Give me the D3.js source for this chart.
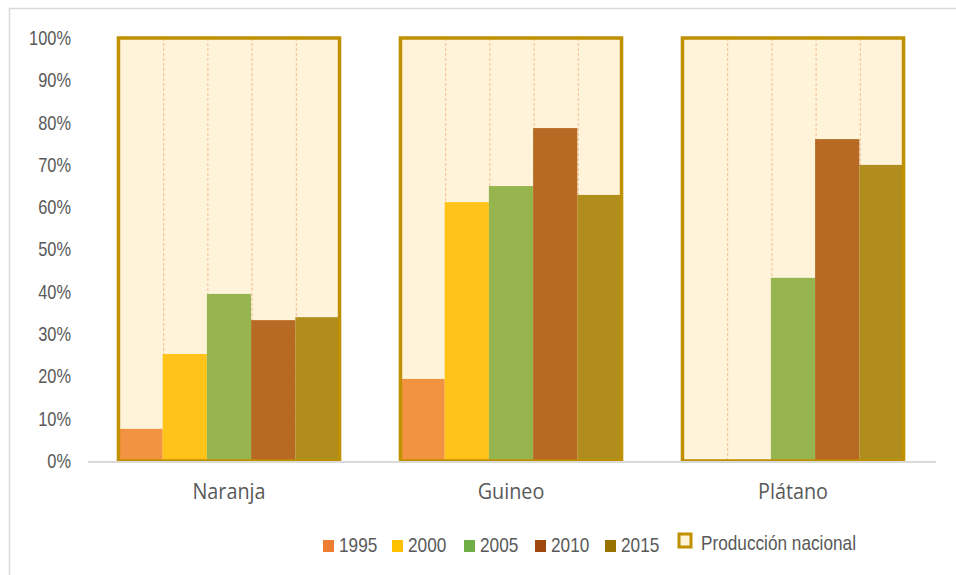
<!DOCTYPE html>
<html>
<head>
<meta charset="utf-8">
<script src="https://cdn.jsdelivr.net/npm/d3@7"></script>
<style>
  body { margin: 0; background: #fff; }
  svg { display: block; }
</style>
</head>
<body>
<div id="chart"></div>
<script>
// data
const categories = ['Naranja', 'Guineo', 'Plátano'];
const years = ['1995', '2000', '2005', '2010', '2015'];
const values = {
  '1995': [0.076, 0.194, 0],
  '2000': [0.253, 0.612, 0],
  '2005': [0.395, 0.650, 0.433],
  '2010': [0.333, 0.787, 0.761],
  '2015': [0.340, 0.629, 0.700]
};
const national = [1, 1, 1];
const yTicks = [0, 0.1, 0.2, 0.3, 0.4, 0.5, 0.6, 0.7, 0.8, 0.9, 1];

const barColors = ['#F19341', '#FFC31A', '#97B54E', '#B66A24', '#B18D1D'];
const legendColors = ['#ED7D31', '#FFC000', '#70AD47', '#9E480E', '#997300'];

const width = 956, height = 575;
const sans = '"Liberation Sans", Arial, sans-serif';
const squeeze = 0.82; // source text looks horizontally condensed

const svg = d3.select('#chart').append('svg')
  .attr('width', width)
  .attr('height', height);

// light frame round the picture
svg.append('rect')
  .attr('x', 9.5).attr('y', 8.5)
  .attr('width', width + 20).attr('height', height + 20)
  .attr('fill', 'none')
  .attr('stroke', '#D9D9D9')
  .attr('stroke-width', 1.5);

const x = d3.scaleBand()
  .domain(categories)
  .range([88, 934])
  .paddingInner(0.216)
  .paddingOuter(0.108);

const xInner = d3.scaleBand()
  .domain(years)
  .range([0, x.bandwidth()]);

const y = d3.scaleLinear()
  .domain([0, 1])
  .range([461, 38]);

const color = d3.scaleOrdinal().domain(years).range(barColors);

// y axis labels
const yAxis = svg.append('g')
  .attr('transform', 'translate(71,0)')
  .call(d3.axisLeft(y).tickValues(yTicks).tickFormat(d3.format('.0%')).tickSize(0).tickPadding(0));
yAxis.select('.domain').remove();
yAxis.selectAll('text')
  .attr('transform', 'scale(' + squeeze + ',1)')
  .style('font-family', sans)
  .style('font-size', '20px')
  .attr('fill', '#595959');

// national production boxes (background)
const groups = svg.selectAll('.cat')
  .data(categories)
  .enter()
  .append('g').attr('class', 'cat')
  .attr('transform', d => 'translate(' + x(d) + ',0)');

groups.append('rect')
  .attr('x', 0)
  .attr('y', (d, i) => y(national[i]))
  .attr('width', x.bandwidth())
  .attr('height', (d, i) => y(0) - y(national[i]))
  .attr('fill', '#FFF3D9');

// dashed separators between years
groups.selectAll('.sep')
  .data(years.slice(1))
  .enter()
  .append('line')
  .attr('x1', d => xInner(d) + 1).attr('x2', d => xInner(d) + 1)
  .attr('y1', y(1)).attr('y2', y(0))
  .attr('stroke', '#F4B183')
  .attr('stroke-width', 1)
  .attr('stroke-dasharray', '3,2')
  .attr('opacity', 0.8);

// bars
groups.selectAll('.bar')
  .data((d, i) => years.map(yr => ({ year: yr, value: values[yr][i] })))
  .enter()
  .append('rect')
  .attr('class', 'bar')
  .attr('x', d => xInner(d.year))
  .attr('y', d => y(d.value))
  .attr('width', xInner.bandwidth())
  .attr('height', d => y(0) - y(d.value))
  .attr('fill', d => color(d.year));

// baseline
svg.append('line')
  .attr('x1', 88).attr('x2', 936)
  .attr('y1', y(0) + 1).attr('y2', y(0) + 1)
  .attr('stroke', '#D9D9D9')
  .attr('stroke-width', 2);

// box outlines
groups.append('rect')
  .attr('x', 0)
  .attr('y', (d, i) => y(national[i]))
  .attr('width', x.bandwidth())
  .attr('height', (d, i) => y(0) - y(national[i]))
  .attr('fill', 'none')
  .attr('stroke', '#BF9000')
  .attr('stroke-width', 3.5);

// category labels
svg.selectAll('.catlabel')
  .data(categories)
  .enter()
  .append('text')
  .attr('transform', d => 'translate(' + (x(d) + x.bandwidth() / 2) + ',499) scale(0.9,1)')
  .attr('text-anchor', 'middle')
  .style('font-family', '"Open Sans", sans-serif')
  .style('font-size', '22px')
  .attr('fill', '#595959')
  .text(d => d);

// legend
const legendX = [323, 392, 464, 535, 605];
const legend = svg.append('g');
years.forEach((yr, i) => {
  legend.append('rect')
    .attr('x', legendX[i]).attr('y', 540)
    .attr('width', 11).attr('height', 12)
    .attr('fill', legendColors[i]);
  legend.append('text')
    .attr('transform', 'translate(' + (legendX[i] + 16) + ',552) scale(' + squeeze + ',1)')
    .style('font-family', sans)
    .style('font-size', '21px')
    .attr('fill', '#595959')
    .text(yr);
});
legend.append('rect')
  .attr('x', 679).attr('y', 534)
  .attr('width', 12).attr('height', 13)
  .attr('fill', '#FFF3D9')
  .attr('stroke', '#BF9000')
  .attr('stroke-width', 3);
legend.append('text')
  .attr('transform', 'translate(701,550) scale(' + squeeze + ',1)')
  .style('font-family', sans)
  .style('font-size', '21px')
  .attr('fill', '#595959')
  .text('Producción nacional');
</script>
</body>
</html>
